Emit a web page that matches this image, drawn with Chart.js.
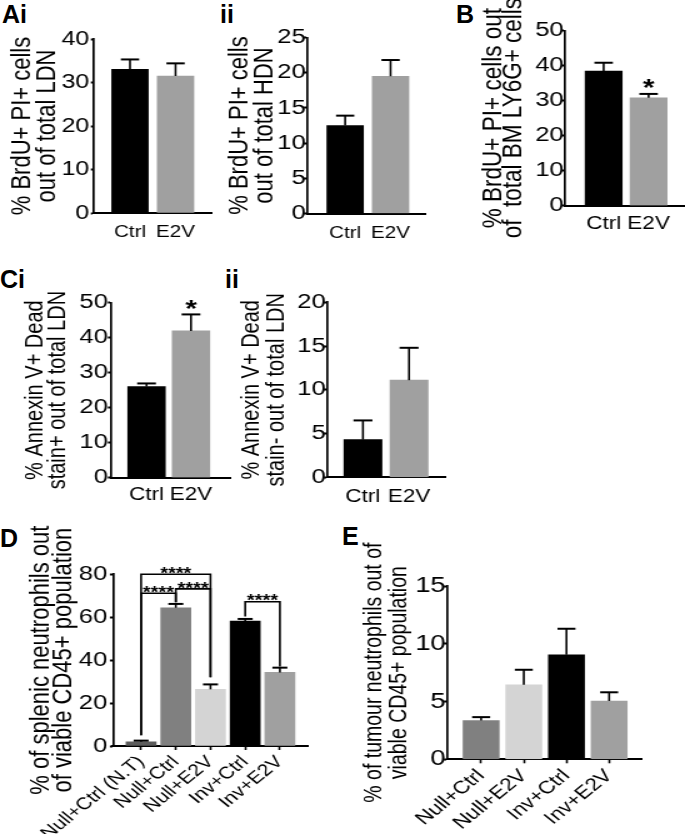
<!DOCTYPE html>
<html><head><meta charset="utf-8">
<script src="https://cdn.jsdelivr.net/npm/chart.js@4.4.1/dist/chart.umd.min.js"></script>
<style>
html,body{margin:0;padding:0;background:#fff;}
#root{position:relative;width:685px;height:834px;overflow:hidden;background:#fff;font-family:'Liberation Sans',Arial,sans-serif;}
.lbl{position:absolute;font-weight:bold;font-size:25px;line-height:25px;color:#000;white-space:nowrap;}
.wrap{position:absolute;transform-origin:0 0;}
</style></head><body><div id="root">
<div class="lbl" style="left:2px;top:2px">Ai</div>
<div class="lbl" style="left:220px;top:2px">ii</div>
<div class="lbl" style="left:456px;top:2px">B</div>
<div class="lbl" style="left:0px;top:267px">Ci</div>
<div class="lbl" style="left:225px;top:267px">ii</div>
<div class="lbl" style="left:0px;top:526px">D</div>
<div class="lbl" style="left:342px;top:524px">E</div>
</div>
<script>
// ---------------- data ----------------
const ctrlE2VLabels = ['Ctrl', 'E2V'];
const aiValues = [33.0, 31.5];
const aiErrors = [2.3, 2.9];
const aiiValues = [12.5, 19.5];
const aiiErrors = [1.4, 2.3];
const bValues = [38.4, 30.8];
const bErrors = [2.4, 1.1];
const bStars = ['', '*'];
const ciValues = [26.0, 41.9];
const ciErrors = [0.9, 4.7];
const ciStars = ['', '*'];
const ciiValues = [4.3, 11.1];
const ciiErrors = [2.2, 3.7];
const dLabels = ['Null+Ctrl (N.T)', 'Null+Ctrl', 'Null+E2V', 'Inv+Ctrl', 'Inv+E2V'];
const dValues = [2.0, 64.4, 26.4, 58.2, 34.3];
const dErrors = [0.5, 1.8, 2.3, 1.0, 2.2];
const dComparisons = [
  {from: 0, to: 2, at: 80, fromEnd: 5, toEnd: 32, label: '****'},
  {from: 0, to: 1, at: 71.2, fromEnd: 5, toEnd: 67, label: '****'},
  {from: 1, to: 2, at: 73.2, fromEnd: 67, toEnd: 32, label: '****'},
  {from: 3, to: 4, at: 67.2, fromEnd: 60.3, toEnd: 37, label: '****'}
];
const eLabels = ['Null+Ctrl', 'Null+E2V', 'Inv+Ctrl', 'Inv+E2V'];
const eValues = [3.35, 6.45, 9.05, 5.05];
const eErrors = [0.3, 1.3, 2.25, 0.75];

// ---------------- styles / layout ----------------
const S = 1.25; // the original figure is stretched horizontally
const FF = "'Liberation Sans', Arial, Helvetica, sans-serif";
const abcColors = ['#000000', '#a0a0a0'];
const dColors = ['#5c5c5c', '#808080', '#d4d4d4', '#000000', '#a0a0a0'];
const eColors = ['#808080', '#d4d4d4', '#000000', '#a0a0a0'];
const root = document.getElementById('root');

function overlay(cfg) {
  return {
    id: 'overlay',
    afterDatasetsDraw(chart) {
      const ctx = chart.ctx;
      const meta = chart.getDatasetMeta(0);
      const ys = chart.scales.y;
      ctx.save();
      ctx.strokeStyle = '#000'; ctx.fillStyle = '#000';
      ctx.lineCap = 'butt'; ctx.lineJoin = 'miter';
      cfg.values.forEach((v, i) => {
        const bar = meta.data[i];
        const x = bar.x;
        const y0 = ys.getPixelForValue(v);
        const y1 = ys.getPixelForValue(v + cfg.errors[i]);
        const half = bar.width / 4;
        ctx.lineWidth = 1.6;
        ctx.beginPath(); ctx.moveTo(x, y0); ctx.lineTo(x, y1); ctx.stroke();
        ctx.lineWidth = 2;
        ctx.beginPath(); ctx.moveTo(x - half, y1); ctx.lineTo(x + half, y1); ctx.stroke();
        if (cfg.stars && cfg.stars[i]) {
          ctx.font = 'bold ' + cfg.starSize + 'px ' + FF;
          ctx.textAlign = 'center'; ctx.textBaseline = 'alphabetic';
          ctx.fillText(cfg.stars[i], x, y1 - cfg.starGap + 0.55 * cfg.starSize);
        }
      });
      (cfg.comparisons || []).forEach(c => {
        const xa = meta.data[c.from].x, xb = meta.data[c.to].x;
        const yl = ys.getPixelForValue(c.at);
        ctx.lineWidth = 1.6;
        ctx.beginPath();
        ctx.moveTo(xa, ys.getPixelForValue(c.fromEnd));
        ctx.lineTo(xa, yl); ctx.lineTo(xb, yl);
        ctx.lineTo(xb, ys.getPixelForValue(c.toEnd));
        ctx.stroke();
        ctx.font = 'bold ' + cfg.bracketStarSize + 'px ' + FF;
        ctx.textAlign = 'center'; ctx.textBaseline = 'alphabetic';
        ctx.fillText(c.label, (xa + xb) / 2, yl - 1.5 + 0.385 * cfg.bracketStarSize);
      });
      ctx.restore();
    }
  };
}

function makeChart(cfg) {
  const w = Math.round(cfg.width / S);
  const h = cfg.height;
  const wrap = document.createElement('div');
  wrap.className = 'wrap';
  wrap.style.left = cfg.left + 'px'; wrap.style.top = cfg.top + 'px';
  wrap.style.width = w + 'px'; wrap.style.height = h + 'px';
  wrap.style.transform = 'scaleX(' + S + ')';
  const cv = document.createElement('canvas');
  cv.width = w; cv.height = h;
  cv.style.width = w + 'px'; cv.style.height = h + 'px'; cv.style.display = 'block';
  wrap.appendChild(cv); root.appendChild(wrap);
  const yW = (cfg.plotLeft - cfg.left) / S;
  const padRight = Math.max(0, w - (cfg.plotRight - cfg.left) / S);
  const padTop = cfg.plotTop - cfg.top;
  const xH = cfg.top + h - cfg.plotBottom;
  const rotated = !!cfg.rotate;
  new Chart(cv, {
    type: 'bar',
    data: {
      datasets: [{
        data: cfg.values.map((v, i) => ({x: i, y: v})),
        backgroundColor: cfg.colors,
        borderWidth: 0,
        barThickness: cfg.barW / S
      }]
    },
    options: {
      responsive: false, animation: false, devicePixelRatio: 1, events: [],
      layout: {padding: {top: padTop, right: padRight, bottom: 0, left: 0}},
      plugins: {legend: {display: false}, tooltip: {enabled: false}},
      scales: {
        x: {
          type: 'linear', min: cfg.xMin, max: cfg.xMax, offset: false,
          afterBuildTicks: s => { s.ticks = cfg.labels.map((_, i) => ({value: i})); },
          afterFit: s => { s.height = xH; },
          grid: {display: rotated, drawOnChartArea: false, drawTicks: true, tickLength: 4, tickWidth: 1.6, tickColor: '#000', color: '#000', offset: false},
          border: {display: true, color: '#000', width: 2},
          ticks: {
            autoSkip: false, minRotation: rotated ? 45 : 0, maxRotation: rotated ? 45 : 0,
            padding: cfg.xPad, color: '#000', font: {family: FF, size: cfg.xFont},
            callback: v => cfg.labels[Math.round(v)]
          }
        },
        y: {
          type: 'linear', min: 0, max: cfg.yMax,
          afterFit: s => { s.width = yW; },
          grid: {display: true, drawOnChartArea: false, drawTicks: true, tickLength: 2.5, tickWidth: 2, tickColor: '#000', color: '#000'},
          border: {display: true, color: '#000', width: 1.7},
          ticks: {stepSize: cfg.yStep, padding: cfg.yPad, color: '#000', font: {family: FF, size: cfg.yFont}},
          title: {
            display: true, text: cfg.title, color: '#000',
            font: {family: FF, size: cfg.titleFont, lineHeight: cfg.titleLH + 'px'},
            padding: {top: cfg.titlePad, bottom: 0}
          }
        }
      }
    },
    plugins: [overlay(cfg)]
  });
}

makeChart({left: 0, top: 22, width: 222, height: 222, plotLeft: 94, plotRight: 212, plotTop: 39, plotBottom: 213,
  xMin: -0.79, xMax: 1.8, barW: 36.5, labels: ctrlE2VLabels, values: aiValues, errors: aiErrors, colors: abcColors,
  yMax: 40, yStep: 10, yFont: 20, yPad: 1.3, xFont: 16.5, xPad: 6,
  title: ['% BrdU+ PI+ cells', 'out of total LDN'], titleFont: 22, titleLH: 20, titlePad: 7.6});

makeChart({left: 225, top: 22, width: 205, height: 222, plotLeft: 307, plotRight: 426, plotTop: 37.5, plotBottom: 213.5,
  xMin: -0.84, xMax: 1.78, barW: 36.5, labels: ctrlE2VLabels, values: aiiValues, errors: aiiErrors, colors: abcColors,
  yMax: 25, yStep: 5, yFont: 20.5, yPad: -1.5, xFont: 16.5, xPad: 6,
  title: ['% BrdU+ PI+ cells', 'out of total HDN'], titleFont: 22, titleLH: 20, titlePad: 2});

makeChart({left: 470, top: 0, width: 215, height: 240, plotLeft: 565, plotRight: 685, plotTop: 30.5, plotBottom: 205.7,
  xMin: -0.86, xMax: 1.81, barW: 37, labels: ctrlE2VLabels, values: bValues, errors: bErrors, colors: abcColors,
  yMax: 50, yStep: 10, yFont: 20.5, yPad: -1.5, xFont: 18, xPad: 4,
  stars: bStars, starSize: 24, starGap: 11,
  title: ['% BrdU+ PI+ cells out', 'of  total BM LY6G+ cells'], titleFont: 22.5, titleLH: 16.8, titlePad: 10});

makeChart({left: 0, top: 285, width: 238, height: 225, plotLeft: 111, plotRight: 231, plotTop: 302.5, plotBottom: 477.7,
  xMin: -0.8, xMax: 1.9, barW: 37.5, labels: ctrlE2VLabels, values: ciValues, errors: ciErrors, colors: abcColors,
  yMax: 50, yStep: 10, yFont: 20.5, yPad: 0, xFont: 18, xPad: 3,
  stars: ciStars, starSize: 24, starGap: 11,
  title: ['% Annexin V+ Dead', 'stain+ out of total LDN'], titleFont: 20, titleLH: 17.2, titlePad: 20.2});

makeChart({left: 230, top: 285, width: 220, height: 225, plotLeft: 327, plotRight: 445, plotTop: 302.3, plotBottom: 477.3,
  xMin: -0.78, xMax: 1.78, barW: 38, labels: ctrlE2VLabels, values: ciiValues, errors: ciiErrors, colors: abcColors,
  yMax: 20, yStep: 5, yFont: 20.5, yPad: -1.5, xFont: 18, xPad: 5,
  title: ['% Annexin V+ Dead', 'stain- out of total LDN'], titleFont: 20, titleLH: 20, titlePad: 7.6});

makeChart({left: 0, top: 505, width: 315, height: 329, plotLeft: 113, plotRight: 308, plotTop: 574.3, plotBottom: 746,
  xMin: -0.81, xMax: 4.81, barW: 30, labels: dLabels, values: dValues, errors: dErrors, colors: dColors,
  yMax: 80, yStep: 20, yFont: 20.5, yPad: 2, xFont: 17, xPad: 2, rotate: true,
  comparisons: dComparisons, bracketStarSize: 16,
  title: ['% of splenic neutrophils out', 'of viable CD45+ population'], titleFont: 22, titleLH: 18, titlePad: 23.8});

makeChart({left: 330, top: 520, width: 320, height: 314, plotLeft: 447, plotRight: 642, plotTop: 586, plotBottom: 759.3,
  xMin: -0.8, xMax: 3.77, barW: 36, labels: eLabels, values: eValues, errors: eErrors, colors: eColors,
  yMax: 15, yStep: 5, yFont: 22, yPad: -1.5, xFont: 18, xPad: 2, rotate: true,
  title: ['% of tumour neutrophils out of', 'viable CD45+ population'], titleFont: 19.5, titleLH: 20, titlePad: 26});
</script>
</body></html>
